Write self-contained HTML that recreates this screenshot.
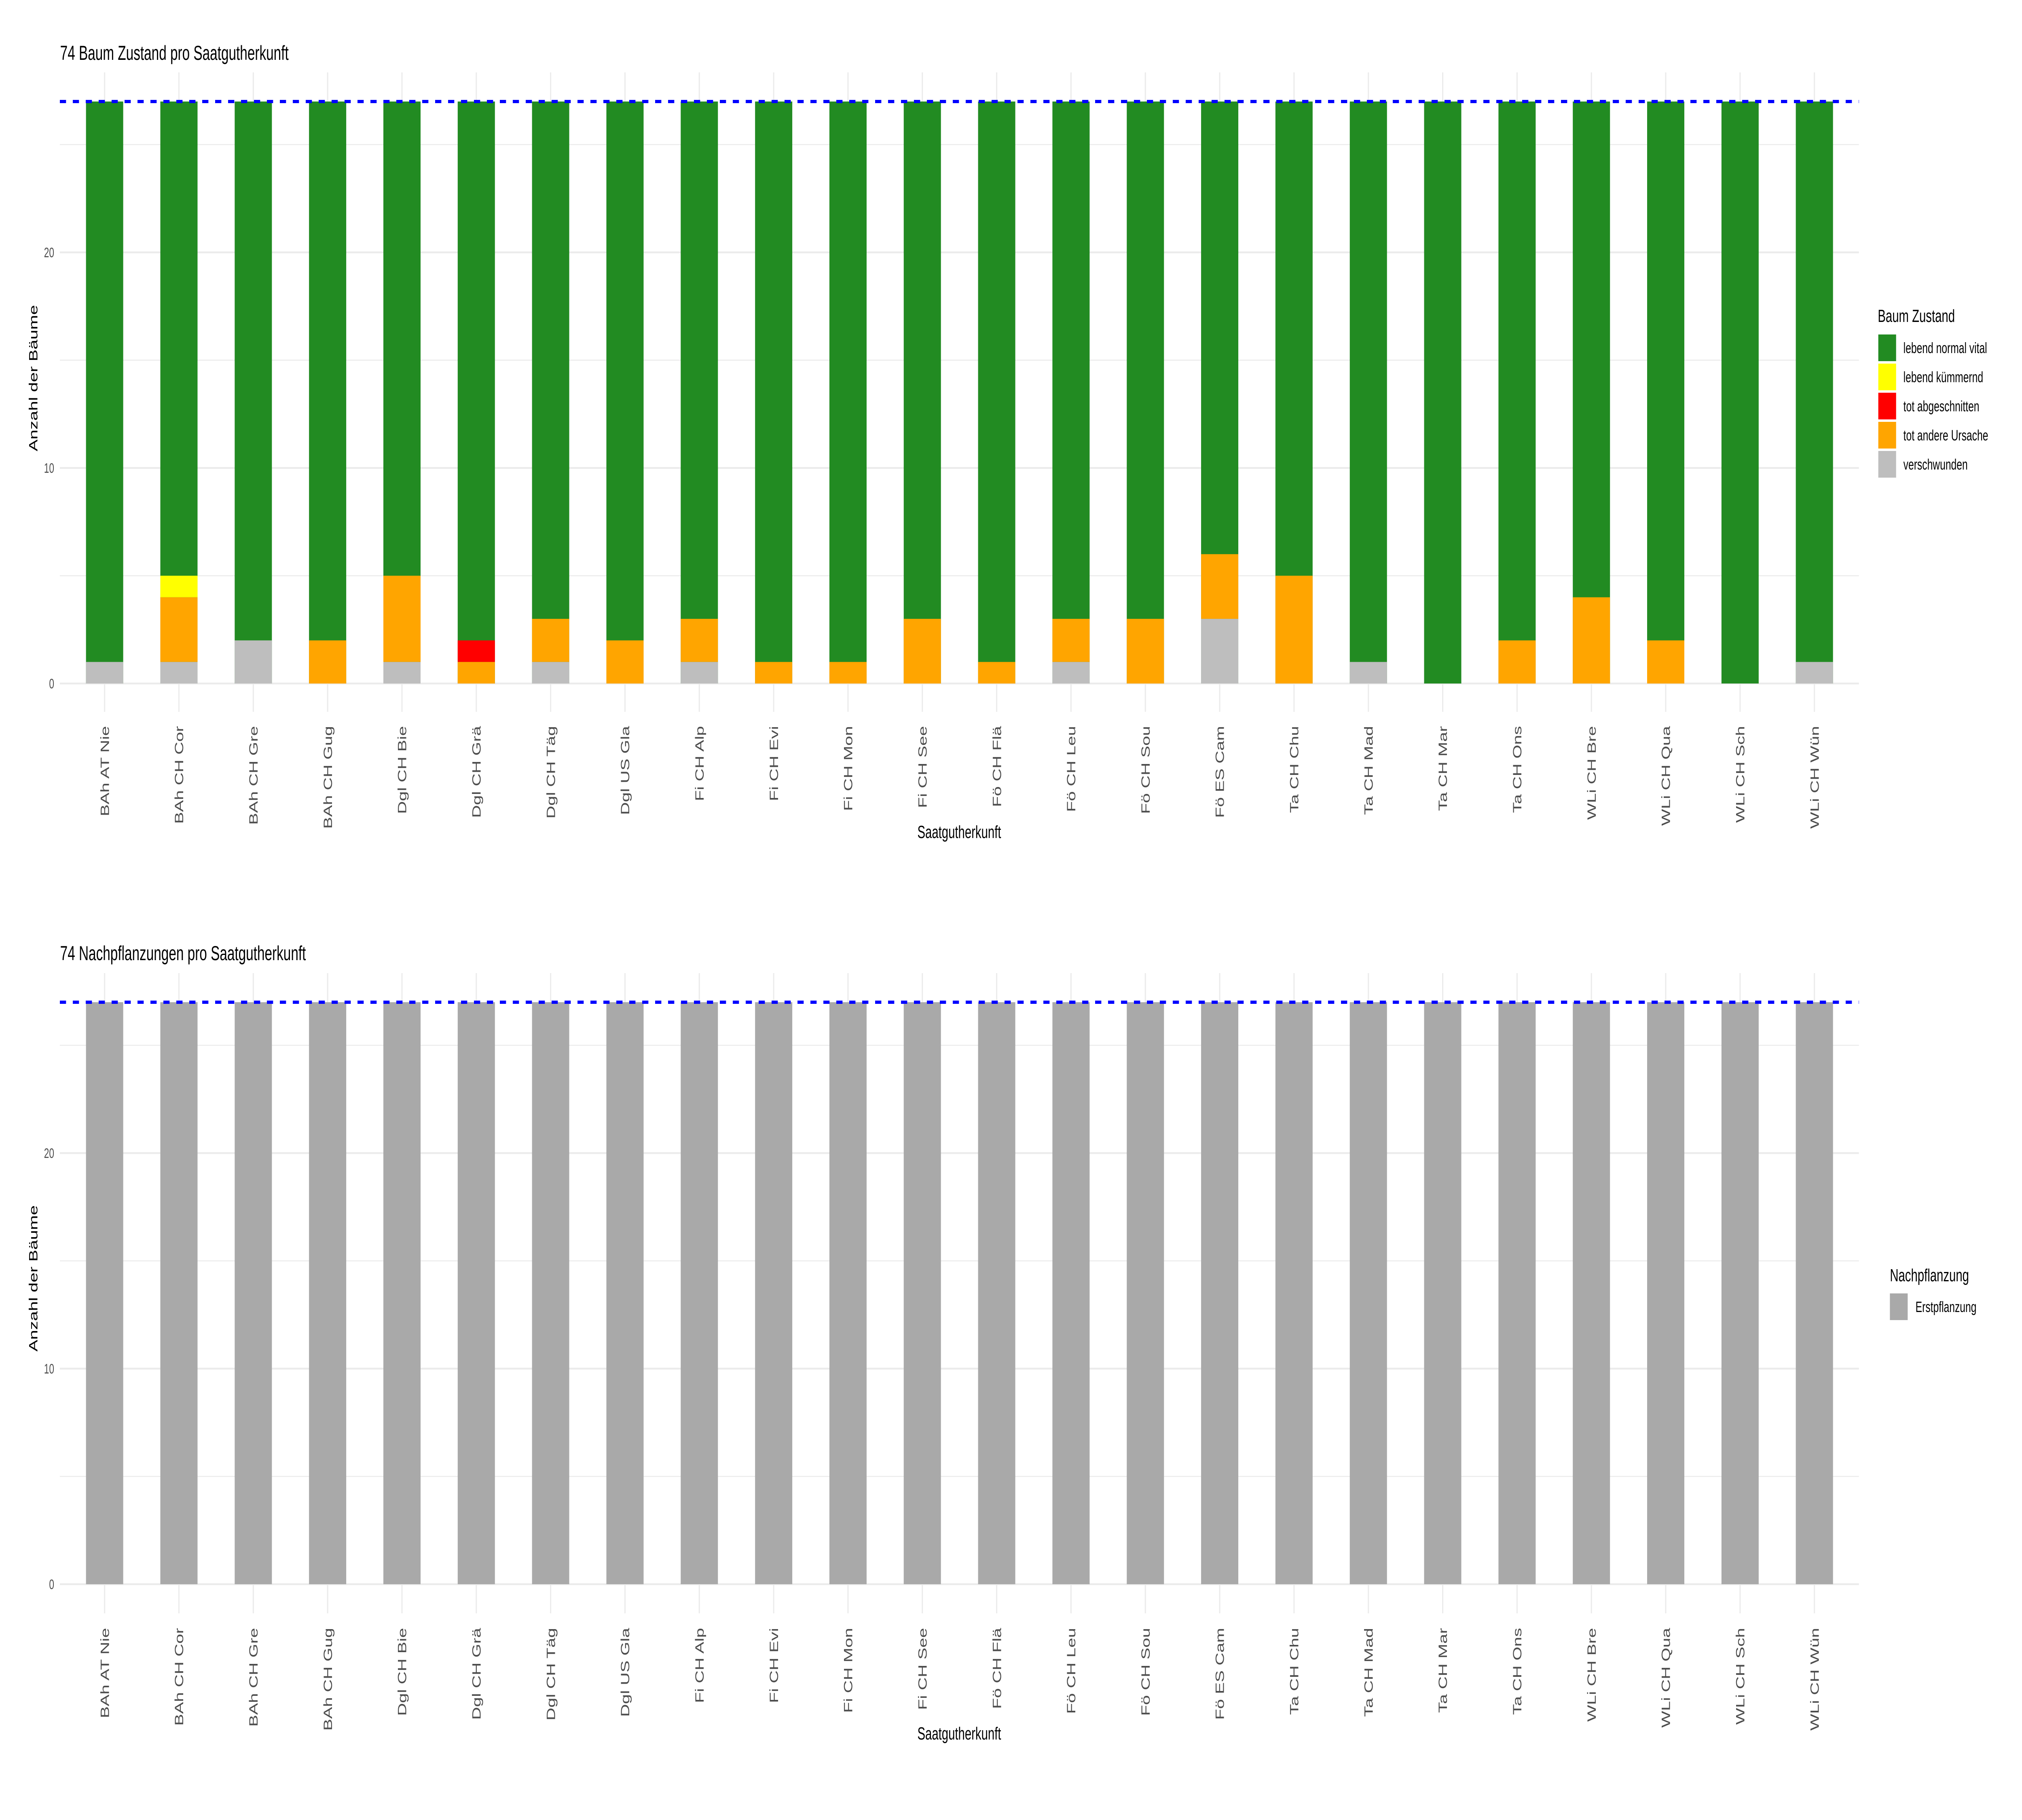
<!DOCTYPE html>
<html><head><meta charset="utf-8"><style>
html,body{margin:0;padding:0;background:#fff;width:100%;height:100%;overflow:hidden;}
svg{display:block;width:100vw;height:100vh;font-family:"Liberation Sans",Arial,sans-serif;}
.tk{font-size:34px;fill:#4d4d4d;}
.xl{font-size:44px;fill:#4d4d4d;}
.at{font-size:44px;fill:#000;}
.ti{font-size:50px;fill:#000;}
.lt{font-size:44px;fill:#000;}
.ll{font-size:37px;fill:#000;}
.gM{stroke:#ebebeb;stroke-width:4.5;}
.gm{stroke:#ebebeb;stroke-width:2.5;}
</style></head><body>
<svg viewBox="0 0 7500 4500" preserveAspectRatio="none" xmlns="http://www.w3.org/2000/svg">

<!-- ============ PANEL 1 ============ -->
<text class="ti" x="223" y="148">74 Baum Zustand pro Saatgutherkunft</text>
<g>
<line class="gm" x1="222" x2="6895" y1="357.5" y2="357.5"/>
<line class="gm" x1="222" x2="6895" y1="890.5" y2="890.5"/>
<line class="gm" x1="222" x2="6895" y1="1423.5" y2="1423.5"/>
<line class="gM" x1="222" x2="6895" y1="624" y2="624"/>
<line class="gM" x1="222" x2="6895" y1="1157" y2="1157"/>
<line class="gM" x1="222" x2="6895" y1="1690" y2="1690"/>
</g>
<g class="gM">
<line x1="388" x2="388" y1="179" y2="1760"/><line x1="663.7" x2="663.7" y1="179" y2="1760"/><line x1="939.5" x2="939.5" y1="179" y2="1760"/><line x1="1215.2" x2="1215.2" y1="179" y2="1760"/><line x1="1491" x2="1491" y1="179" y2="1760"/><line x1="1766.7" x2="1766.7" y1="179" y2="1760"/><line x1="2042.4" x2="2042.4" y1="179" y2="1760"/><line x1="2318.2" x2="2318.2" y1="179" y2="1760"/><line x1="2593.9" x2="2593.9" y1="179" y2="1760"/><line x1="2869.7" x2="2869.7" y1="179" y2="1760"/><line x1="3145.4" x2="3145.4" y1="179" y2="1760"/><line x1="3421.1" x2="3421.1" y1="179" y2="1760"/><line x1="3696.9" x2="3696.9" y1="179" y2="1760"/><line x1="3972.6" x2="3972.6" y1="179" y2="1760"/><line x1="4248.4" x2="4248.4" y1="179" y2="1760"/><line x1="4524.1" x2="4524.1" y1="179" y2="1760"/><line x1="4799.8" x2="4799.8" y1="179" y2="1760"/><line x1="5075.6" x2="5075.6" y1="179" y2="1760"/><line x1="5351.3" x2="5351.3" y1="179" y2="1760"/><line x1="5627.1" x2="5627.1" y1="179" y2="1760"/><line x1="5902.8" x2="5902.8" y1="179" y2="1760"/><line x1="6178.5" x2="6178.5" y1="179" y2="1760"/><line x1="6454.3" x2="6454.3" y1="179" y2="1760"/><line x1="6730" x2="6730" y1="179" y2="1760"/>
</g>
<g fill="#228b22">
<rect x="319" y="251" width="138" height="1439"/><rect x="594.7" y="251" width="138" height="1439"/><rect x="870.5" y="251" width="138" height="1439"/><rect x="1146.2" y="251" width="138" height="1439"/><rect x="1422" y="251" width="138" height="1439"/><rect x="1697.7" y="251" width="138" height="1439"/><rect x="1973.4" y="251" width="138" height="1439"/><rect x="2249.2" y="251" width="138" height="1439"/><rect x="2524.9" y="251" width="138" height="1439"/><rect x="2800.7" y="251" width="138" height="1439"/><rect x="3076.4" y="251" width="138" height="1439"/><rect x="3352.1" y="251" width="138" height="1439"/><rect x="3627.9" y="251" width="138" height="1439"/><rect x="3903.6" y="251" width="138" height="1439"/><rect x="4179.4" y="251" width="138" height="1439"/><rect x="4455.1" y="251" width="138" height="1439"/><rect x="4730.8" y="251" width="138" height="1439"/><rect x="5006.6" y="251" width="138" height="1439"/><rect x="5282.3" y="251" width="138" height="1439"/><rect x="5558.1" y="251" width="138" height="1439"/><rect x="5833.8" y="251" width="138" height="1439"/><rect x="6109.5" y="251" width="138" height="1439"/><rect x="6385.3" y="251" width="138" height="1439"/><rect x="6661" y="251" width="138" height="1439"/>
</g>
<rect fill="#ffff00" x="594.7" y="1423.5" width="138" height="53.3"/>
<rect fill="#ff0000" x="1697.7" y="1583.4" width="138" height="53.3"/>
<g fill="#ffa500">
<rect x="594.7" y="1476.8" width="138" height="159.9"/>
<rect x="1146.2" y="1583.4" width="138" height="106.6"/>
<rect x="1422" y="1423.5" width="138" height="213.2"/>
<rect x="1697.7" y="1636.7" width="138" height="53.3"/>
<rect x="1973.4" y="1530.1" width="138" height="106.6"/>
<rect x="2249.2" y="1583.4" width="138" height="106.6"/>
<rect x="2524.9" y="1530.1" width="138" height="106.6"/>
<rect x="2800.7" y="1636.7" width="138" height="53.3"/>
<rect x="3076.4" y="1636.7" width="138" height="53.3"/>
<rect x="3352.1" y="1530.1" width="138" height="159.9"/>
<rect x="3627.9" y="1636.7" width="138" height="53.3"/>
<rect x="3903.6" y="1530.1" width="138" height="106.6"/>
<rect x="4179.4" y="1530.1" width="138" height="159.9"/>
<rect x="4455.1" y="1370.2" width="138" height="159.9"/>
<rect x="4730.8" y="1423.5" width="138" height="266.5"/>
<rect x="5558.1" y="1583.4" width="138" height="106.6"/>
<rect x="5833.8" y="1476.8" width="138" height="213.2"/>
<rect x="6109.5" y="1583.4" width="138" height="106.6"/>
</g>
<g fill="#bebebe">
<rect x="319" y="1636.7" width="138" height="53.3"/>
<rect x="594.7" y="1636.7" width="138" height="53.3"/>
<rect x="870.5" y="1583.4" width="138" height="106.6"/>
<rect x="1422" y="1636.7" width="138" height="53.3"/>
<rect x="1973.4" y="1636.7" width="138" height="53.3"/>
<rect x="2524.9" y="1636.7" width="138" height="53.3"/>
<rect x="3903.6" y="1636.7" width="138" height="53.3"/>
<rect x="4455.1" y="1530.1" width="138" height="159.9"/>
<rect x="5006.6" y="1636.7" width="138" height="53.3"/>
<rect x="6661" y="1636.7" width="138" height="53.3"/>
</g>
<line x1="222" x2="6895" y1="251" y2="251" stroke="#0000ff" stroke-width="8" stroke-dasharray="23 25"/>
<g class="tk" text-anchor="end">
<text x="201" y="1702">0</text><text x="201" y="1169">10</text><text x="201" y="636">20</text>
</g>
<text class="at" text-anchor="middle" transform="translate(139,935) rotate(-90)">Anzahl der Bäume</text>
<g class="xl" text-anchor="end">
<text transform="translate(404,1795) rotate(-90)">BAh AT Nie</text>
<text transform="translate(679.7,1795) rotate(-90)">BAh CH Cor</text>
<text transform="translate(955.5,1795) rotate(-90)">BAh CH Gre</text>
<text transform="translate(1231.2,1795) rotate(-90)">BAh CH Gug</text>
<text transform="translate(1507,1795) rotate(-90)">Dgl CH Bie</text>
<text transform="translate(1782.7,1795) rotate(-90)">Dgl CH Grä</text>
<text transform="translate(2058.4,1795) rotate(-90)">Dgl CH Täg</text>
<text transform="translate(2334.2,1795) rotate(-90)">Dgl US Gla</text>
<text transform="translate(2609.9,1795) rotate(-90)">Fi CH Alp</text>
<text transform="translate(2885.7,1795) rotate(-90)">Fi CH Evi</text>
<text transform="translate(3161.4,1795) rotate(-90)">Fi CH Mon</text>
<text transform="translate(3437.1,1795) rotate(-90)">Fi CH See</text>
<text transform="translate(3712.9,1795) rotate(-90)">Fö CH Flä</text>
<text transform="translate(3988.6,1795) rotate(-90)">Fö CH Leu</text>
<text transform="translate(4264.4,1795) rotate(-90)">Fö CH Sou</text>
<text transform="translate(4540.1,1795) rotate(-90)">Fö ES Cam</text>
<text transform="translate(4815.8,1795) rotate(-90)">Ta CH Chu</text>
<text transform="translate(5091.6,1795) rotate(-90)">Ta CH Mad</text>
<text transform="translate(5367.3,1795) rotate(-90)">Ta CH Mar</text>
<text transform="translate(5643.1,1795) rotate(-90)">Ta CH Ons</text>
<text transform="translate(5918.8,1795) rotate(-90)">WLi CH Bre</text>
<text transform="translate(6194.5,1795) rotate(-90)">WLi CH Qua</text>
<text transform="translate(6470.3,1795) rotate(-90)">WLi CH Sch</text>
<text transform="translate(6746,1795) rotate(-90)">WLi CH Wün</text>
</g>
<text class="at" text-anchor="middle" x="3558" y="2072">Saatgutherkunft</text>
<text class="lt" x="6965" y="796">Baum Zustand</text>
<rect x="6967" y="827" width="66" height="66" fill="#228b22"/>
<rect x="6967" y="899" width="66" height="66" fill="#ffff00"/>
<rect x="6967" y="971" width="66" height="66" fill="#ff0000"/>
<rect x="6967" y="1043" width="66" height="66" fill="#ffa500"/>
<rect x="6967" y="1115" width="66" height="66" fill="#bebebe"/>
<g class="ll">
<text x="7060" y="873">lebend normal vital</text>
<text x="7060" y="945">lebend kümmernd</text>
<text x="7060" y="1017">tot abgeschnitten</text>
<text x="7060" y="1089">tot andere Ursache</text>
<text x="7060" y="1161">verschwunden</text>
</g>

<!-- ============ PANEL 2 ============ -->
<text class="ti" x="223" y="2374">74 Nachpflanzungen pro Saatgutherkunft</text>
<g>
<line class="gm" x1="222" x2="6895" y1="2584.5" y2="2584.5"/>
<line class="gm" x1="222" x2="6895" y1="3117.5" y2="3117.5"/>
<line class="gm" x1="222" x2="6895" y1="3650.5" y2="3650.5"/>
<line class="gM" x1="222" x2="6895" y1="2851" y2="2851"/>
<line class="gM" x1="222" x2="6895" y1="3384" y2="3384"/>
<line class="gM" x1="222" x2="6895" y1="3917" y2="3917"/>
</g>
<g class="gM">
<line x1="388" x2="388" y1="2406" y2="3989"/><line x1="663.7" x2="663.7" y1="2406" y2="3989"/><line x1="939.5" x2="939.5" y1="2406" y2="3989"/><line x1="1215.2" x2="1215.2" y1="2406" y2="3989"/><line x1="1491" x2="1491" y1="2406" y2="3989"/><line x1="1766.7" x2="1766.7" y1="2406" y2="3989"/><line x1="2042.4" x2="2042.4" y1="2406" y2="3989"/><line x1="2318.2" x2="2318.2" y1="2406" y2="3989"/><line x1="2593.9" x2="2593.9" y1="2406" y2="3989"/><line x1="2869.7" x2="2869.7" y1="2406" y2="3989"/><line x1="3145.4" x2="3145.4" y1="2406" y2="3989"/><line x1="3421.1" x2="3421.1" y1="2406" y2="3989"/><line x1="3696.9" x2="3696.9" y1="2406" y2="3989"/><line x1="3972.6" x2="3972.6" y1="2406" y2="3989"/><line x1="4248.4" x2="4248.4" y1="2406" y2="3989"/><line x1="4524.1" x2="4524.1" y1="2406" y2="3989"/><line x1="4799.8" x2="4799.8" y1="2406" y2="3989"/><line x1="5075.6" x2="5075.6" y1="2406" y2="3989"/><line x1="5351.3" x2="5351.3" y1="2406" y2="3989"/><line x1="5627.1" x2="5627.1" y1="2406" y2="3989"/><line x1="5902.8" x2="5902.8" y1="2406" y2="3989"/><line x1="6178.5" x2="6178.5" y1="2406" y2="3989"/><line x1="6454.3" x2="6454.3" y1="2406" y2="3989"/><line x1="6730" x2="6730" y1="2406" y2="3989"/>
</g>
<g fill="#a9a9a9">
<rect x="319" y="2478" width="138" height="1439"/><rect x="594.7" y="2478" width="138" height="1439"/><rect x="870.5" y="2478" width="138" height="1439"/><rect x="1146.2" y="2478" width="138" height="1439"/><rect x="1422" y="2478" width="138" height="1439"/><rect x="1697.7" y="2478" width="138" height="1439"/><rect x="1973.4" y="2478" width="138" height="1439"/><rect x="2249.2" y="2478" width="138" height="1439"/><rect x="2524.9" y="2478" width="138" height="1439"/><rect x="2800.7" y="2478" width="138" height="1439"/><rect x="3076.4" y="2478" width="138" height="1439"/><rect x="3352.1" y="2478" width="138" height="1439"/><rect x="3627.9" y="2478" width="138" height="1439"/><rect x="3903.6" y="2478" width="138" height="1439"/><rect x="4179.4" y="2478" width="138" height="1439"/><rect x="4455.1" y="2478" width="138" height="1439"/><rect x="4730.8" y="2478" width="138" height="1439"/><rect x="5006.6" y="2478" width="138" height="1439"/><rect x="5282.3" y="2478" width="138" height="1439"/><rect x="5558.1" y="2478" width="138" height="1439"/><rect x="5833.8" y="2478" width="138" height="1439"/><rect x="6109.5" y="2478" width="138" height="1439"/><rect x="6385.3" y="2478" width="138" height="1439"/><rect x="6661" y="2478" width="138" height="1439"/>
</g>
<line x1="222" x2="6895" y1="2478" y2="2478" stroke="#0000ff" stroke-width="8" stroke-dasharray="23 25"/>
<g class="tk" text-anchor="end">
<text x="201" y="3929">0</text><text x="201" y="3396">10</text><text x="201" y="2863">20</text>
</g>
<text class="at" text-anchor="middle" transform="translate(139,3161) rotate(-90)">Anzahl der Bäume</text>
<g class="xl" text-anchor="end">
<text transform="translate(404,4025) rotate(-90)">BAh AT Nie</text>
<text transform="translate(679.7,4025) rotate(-90)">BAh CH Cor</text>
<text transform="translate(955.5,4025) rotate(-90)">BAh CH Gre</text>
<text transform="translate(1231.2,4025) rotate(-90)">BAh CH Gug</text>
<text transform="translate(1507,4025) rotate(-90)">Dgl CH Bie</text>
<text transform="translate(1782.7,4025) rotate(-90)">Dgl CH Grä</text>
<text transform="translate(2058.4,4025) rotate(-90)">Dgl CH Täg</text>
<text transform="translate(2334.2,4025) rotate(-90)">Dgl US Gla</text>
<text transform="translate(2609.9,4025) rotate(-90)">Fi CH Alp</text>
<text transform="translate(2885.7,4025) rotate(-90)">Fi CH Evi</text>
<text transform="translate(3161.4,4025) rotate(-90)">Fi CH Mon</text>
<text transform="translate(3437.1,4025) rotate(-90)">Fi CH See</text>
<text transform="translate(3712.9,4025) rotate(-90)">Fö CH Flä</text>
<text transform="translate(3988.6,4025) rotate(-90)">Fö CH Leu</text>
<text transform="translate(4264.4,4025) rotate(-90)">Fö CH Sou</text>
<text transform="translate(4540.1,4025) rotate(-90)">Fö ES Cam</text>
<text transform="translate(4815.8,4025) rotate(-90)">Ta CH Chu</text>
<text transform="translate(5091.6,4025) rotate(-90)">Ta CH Mad</text>
<text transform="translate(5367.3,4025) rotate(-90)">Ta CH Mar</text>
<text transform="translate(5643.1,4025) rotate(-90)">Ta CH Ons</text>
<text transform="translate(5918.8,4025) rotate(-90)">WLi CH Bre</text>
<text transform="translate(6194.5,4025) rotate(-90)">WLi CH Qua</text>
<text transform="translate(6470.3,4025) rotate(-90)">WLi CH Sch</text>
<text transform="translate(6746,4025) rotate(-90)">WLi CH Wün</text>
</g>
<text class="at" text-anchor="middle" x="3558" y="4301">Saatgutherkunft</text>
<text class="lt" x="7010" y="3168">Nachpflanzung</text>
<rect x="7010" y="3198" width="66" height="66" fill="#a9a9a9"/>
<text class="ll" x="7105" y="3244">Erstpflanzung</text>
</svg>
</body></html>
